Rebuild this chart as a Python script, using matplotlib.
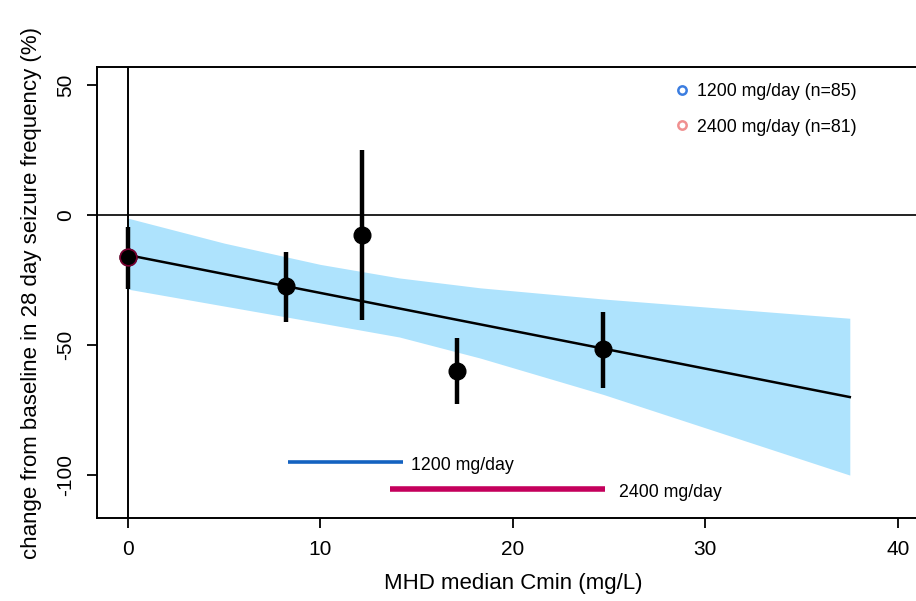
import numpy as np
import matplotlib.pyplot as plt
from matplotlib.lines import Line2D

plt.rcParams['font.family'] = ['Liberation Sans', 'DejaVu Sans']
plt.rcParams['axes.unicode_minus'] = False

# observed mean change per Cmin bin, with 95% interval
cmin_obs = [0.0, 8.2, 12.15, 17.1, 24.7]
chg_obs = [-16.2, -27.3, -7.7, -60.0, -51.5]
chg_lo = [-28.5, -41.2, -40.4, -72.7, -66.5]
chg_hi = [-4.6, -14.2, 25.0, -47.3, -37.3]

# model fit and confidence band
fit_x = [0.0, 37.5]
fit_y = [-15.4, -70.0]
band_x = [0.0, 5.0, 10.0, 14.1, 18.3, 24.7, 37.5]
band_hi = [-1.2, -10.8, -19.0, -24.2, -28.0, -32.3, -39.7]
band_lo = [-28.5, -35.0, -41.5, -46.9, -55.0, -69.0, -100.0]

# Cmin range covered by each dose
dose_labels = ['1200 mg/day', '2400 mg/day']
dose_range = [(8.3, 14.3), (13.6, 24.8)]
dose_y = [-95.0, -105.4]
dose_n = [85, 81]

fig = plt.figure(figsize=(9.16, 6.01), dpi=100)
ax = fig.add_axes([0.1059, 0.1381, 0.908, 0.7504])

ax.fill_between(band_x, band_lo, band_hi, color='#aee3fd', lw=0, zorder=1)
ax.axhline(0, color='#222222', lw=1.4, zorder=2)
ax.axvline(0, color='black', lw=1.4, zorder=2)
ax.plot(fit_x, fit_y, color='black', lw=1.8, zorder=3)

yerr = [np.array(chg_obs) - np.array(chg_lo), np.array(chg_hi) - np.array(chg_obs)]
ax.errorbar(cmin_obs, chg_obs, yerr=yerr, fmt='o', color='black', ms=12,
            elinewidth=3.2, capsize=0, zorder=4)
# first bin overlaps both dose groups
ax.plot(cmin_obs[0], chg_obs[0], 'o', ms=12, mfc='black', mec='#7a0030',
        mew=1.2, zorder=5)

dose_colors = ['#1462c0', '#c4005c']
dose_lw = [2.6, 4.0]
label_gap = [0.4, 0.7]
for (x0, x1), y, c, lw, gap, lab in zip(dose_range, dose_y, dose_colors, dose_lw,
                                         label_gap, dose_labels):
    ax.plot([x0, x1], [y, y], color=c, lw=lw, solid_capstyle='butt')
    ax.text(x1 + gap, y - 1.4, lab, fontsize=12.8, va='center', ha='left')

handles = [Line2D([], [], ls='none', marker='o', ms=6, mfc='none', mew=1.8,
                  mec=c) for c in ['#3b7de0', '#f09090']]
ax.legend(handles, [f'{d} (n={n})' for d, n in zip(dose_labels, dose_n)],
          loc='upper left', bbox_to_anchor=(0.675, 1.0), frameon=False,
          fontsize=12.8, handletextpad=0.35, labelspacing=1.05, handlelength=0.9)

ax.set_xlim(-1.6, 41.6)
ax.set_ylim(-116.5, 56.9)
ax.set_xticks([0, 10, 20, 30, 40])
ax.set_yticks([50, 0, -50, -100])
ax.tick_params(direction='out', length=7, width=1.3, labelsize=15, pad=9)
for lab in ax.get_yticklabels():
    lab.set_rotation(90)
    lab.set_va('center')
for s in ax.spines.values():
    s.set_linewidth(1.4)

ax.set_xlabel('MHD median Cmin (mg/L)', fontsize=16, labelpad=10)
ax.set_ylabel('change from baseline in 28 day seizure frequency (%)', fontsize=16,
              labelpad=10)

fig.savefig('out.png', dpi=100)
